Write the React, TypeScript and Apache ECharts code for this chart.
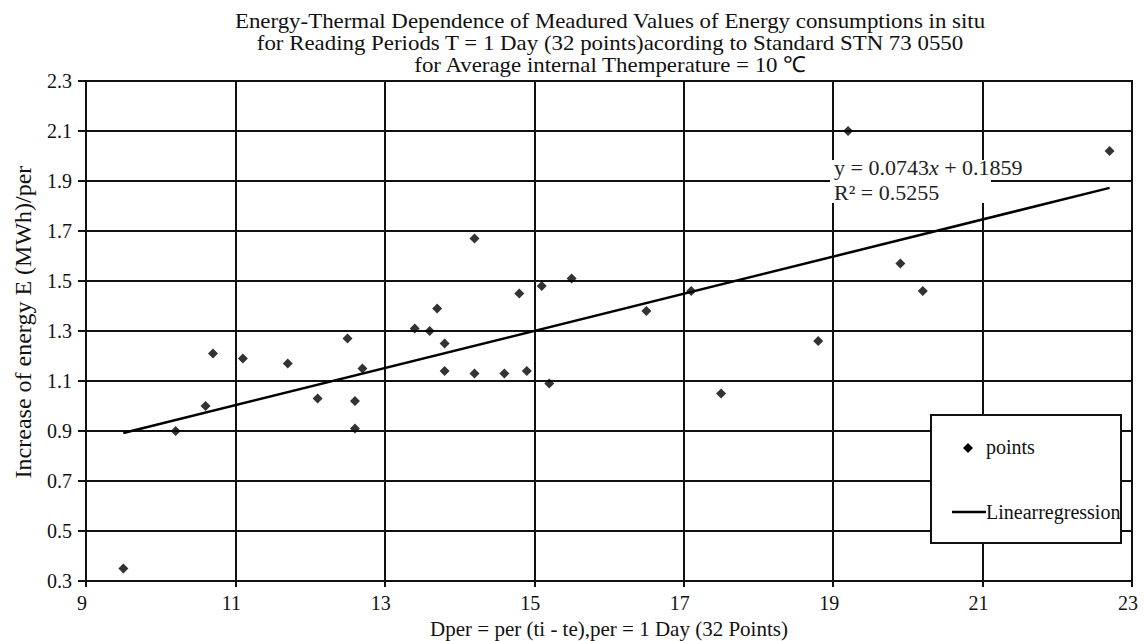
import React, { useEffect, useRef } from "react";
import * as echarts from "echarts";

// Measured points (Dper, E)
const xValues = [9.5, 10.2, 10.6, 10.7, 11.1, 11.7, 12.1, 12.5, 12.6, 12.6, 12.7, 13.4, 13.6, 13.7, 13.8, 13.8,
  14.2, 14.2, 14.6, 14.8, 14.9, 15.1, 15.2, 15.5, 16.5, 17.1, 17.5, 18.8, 19.2, 19.9, 20.2, 22.7];
const yValues = [0.35, 0.9, 1.0, 1.21, 1.19, 1.17, 1.03, 1.27, 1.02, 0.91, 1.15, 1.31, 1.3, 1.39, 1.25, 1.14,
  1.67, 1.13, 1.13, 1.45, 1.14, 1.48, 1.09, 1.51, 1.38, 1.46, 1.05, 1.26, 2.1, 1.57, 1.46, 2.02];

// Regression line end points
const regX = [9.5, 22.7];
const regY = [0.8918, 1.8725];

const xTicks = [9, 11, 13, 15, 17, 19, 21, 23];
const yTicks = [0.3, 0.5, 0.7, 0.9, 1.1, 1.3, 1.5, 1.7, 1.9, 2.1, 2.3];

const titleLines = [
  "Energy-Thermal Dependence of Meadured Values of Energy consumptions in situ",
  "for Reading Periods T = 1 Day (32 points)acording to Standard STN 73 0550",
  "for Average internal Themperature = 10 \u2103",
];
const legendNames = ["points", "Linearregression"];

const FONT = "Liberation Serif";
const INK = "#111";

export default function App() {
  const ref = useRef<HTMLDivElement>(null);
  useEffect(() => {
    if (!ref.current) return;
    const chart = echarts.init(ref.current, null, { renderer: "svg" });
    const points = xValues.map((x, i) => [x, yValues[i]]);
    const reg = regX.map((x, i) => [x, regY[i]]);
    const titleGraphics = titleLines.map((t, i) => ({
      type: "text", silent: true, x: 610, y: 21 + i * 22, scaleX: 1.04,
      style: { text: t, font: `22px ${FONT}`, fill: INK, align: "center", verticalAlign: "middle" },
    }));
    const rich = { s: { fontFamily: FONT, fontSize: 20, color: INK } };
    chart.setOption({
      animation: false,
      backgroundColor: "#fff",
      textStyle: { fontFamily: FONT },
      grid: {
        left: 86, right: 12, top: 81, bottom: 60,
        containLabel: false, outerBoundsMode: "none",
        show: true, borderColor: INK, borderWidth: 2, backgroundColor: "transparent",
      },
      xAxis: {
        type: "value", min: 9, max: 23,
        name: "Dper = per (ti - te),per = 1 Day (32 Points)",
        nameLocation: "middle", nameGap: 37, nameMoveOverlap: false,
        nameTextStyle: { fontFamily: FONT, fontSize: 21, color: INK },
        axisLine: { show: true, lineStyle: { color: INK, width: 2 } },
        axisTick: { show: true, inside: false, length: 6, customValues: xTicks, lineStyle: { color: INK, width: 2 } },
        axisLabel: {
          customValues: xTicks, margin: 12, fontFamily: FONT, fontSize: 20, color: INK,
          padding: [0, 8, 0, 0], rich,
          formatter: (v: number) => `{s|${v.toFixed(0)}}`,
        },
        splitLine: { show: true, lineStyle: { color: INK, width: 2 } },
      },
      yAxis: {
        type: "value", min: 0.3, max: 2.3,
        name: "Increase of energy E (MWh)/per",
        nameLocation: "middle", nameGap: 51, nameMoveOverlap: false,
        nameTextStyle: { fontFamily: FONT, fontSize: 24, color: INK, padding: [0, 0, 0, 18] },
        axisLine: { show: true, lineStyle: { color: INK, width: 2 } },
        axisTick: { show: true, inside: false, length: 8, customValues: yTicks, lineStyle: { color: INK, width: 2 } },
        axisLabel: {
          customValues: yTicks, margin: 14, fontFamily: FONT, fontSize: 20, color: INK, rich,
          formatter: (v: number) => `{s|${v.toFixed(1)}}`,
        },
        splitLine: { show: true, lineStyle: { color: INK, width: 2 } },
      },
      legend: { show: false, data: legendNames },
      series: [
        {
          name: legendNames[0], type: "scatter", data: points,
          symbol: "diamond", symbolSize: 10,
          itemStyle: { color: "#000" }, z: 5,
        },
        {
          name: legendNames[1], type: "line", data: reg,
          symbol: "none", lineStyle: { color: "#000", width: 2.5 },
          itemStyle: { color: "#000" }, z: 4,
        },
      ],
      graphic: [
        ...titleGraphics,
        // legend box
        {
          type: "rect", z: 20, silent: true,
          shape: { x: 931, y: 415, width: 190, height: 128 },
          style: { fill: "#fff", stroke: INK, lineWidth: 2 },
        },
        {
          type: "polygon", z: 21, silent: true,
          shape: { points: [[968, 443], [973, 448], [968, 453], [963, 448]] },
          style: { fill: "#000" },
        },
        {
          type: "text", z: 21, silent: true, x: 986, y: 447,
          style: { text: legendNames[0], font: `20px ${FONT}`, fill: INK, verticalAlign: "middle" },
        },
        {
          type: "line", z: 21, silent: true,
          shape: { x1: 952, y1: 512, x2: 986, y2: 512 },
          style: { stroke: "#000", lineWidth: 2.5 },
        },
        {
          type: "text", z: 21, silent: true, x: 986, y: 512,
          style: { text: legendNames[1], font: `20px ${FONT}`, fill: INK, verticalAlign: "middle" },
        },
        // regression equation
        {
          type: "rect", z: 10, silent: true,
          shape: { x: 830, y: 160, width: 161, height: 43 },
          style: { fill: "#fff" },
        },
        {
          type: "text", z: 11, x: 834, y: 155, silent: true,
          style: {
            text: "y = 0.0743{i|x} + 0.1859\nR\u00b2 = 0.5255",
            font: `22px ${FONT}`, fill: "#222", lineHeight: 25,
            rich: { i: { fontStyle: "italic", fontFamily: FONT, fontSize: 22, fill: "#222" } },
          },
        },
      ],
    });
    return () => chart.dispose();
  }, []);
  return <div ref={ref} style={{ position: "absolute", left: 0, top: 0, width: 1144, height: 641 }} />;
}
